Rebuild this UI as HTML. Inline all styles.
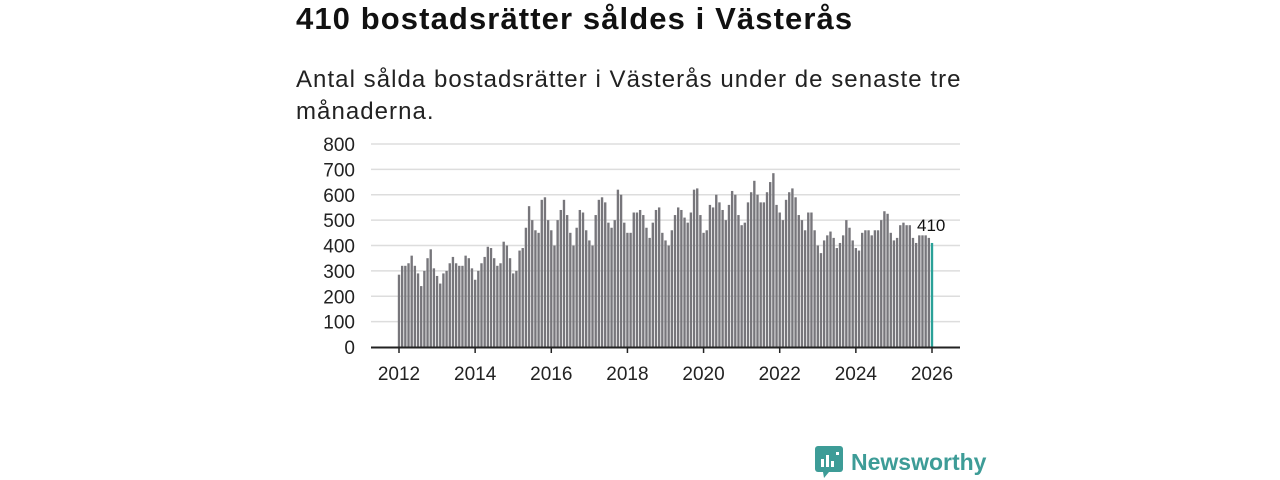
<!DOCTYPE html>
<html><head><meta charset="utf-8"><style>
body{margin:0;width:1280px;height:480px;background:#fff;font-family:"Liberation Sans","DejaVu Sans",sans-serif;position:relative;overflow:hidden;color:#111}
#title{position:absolute;left:296px;top:1px;font-size:31px;letter-spacing:1.1px;font-weight:bold;margin:0}
#sub{position:absolute;left:296px;top:64px;font-size:24px;letter-spacing:1.05px;line-height:32px;width:700px;color:#222}
svg{position:absolute;left:0;top:0}
#logo{position:absolute;left:815px;top:446px;display:flex;align-items:center;gap:8px;color:#3d9c97;font-size:23px;font-weight:bold}
</style></head><body>
<h1 id="title">410 bostadsrätter såldes i Västerås</h1>
<div id="sub">Antal sålda bostadsrätter i Västerås under de senaste tre månaderna.</div>
<svg id="chart" width="1280" height="480"></svg>
<div id="logo"><svg width="28" height="32" style="position:static" viewBox="0 0 28 32"><rect x="0" y="0" width="28" height="26" rx="3" fill="#3d9c97"/><polygon points="8,26 14,26 9,32" fill="#3d9c97"/><rect x="6" y="13" width="3" height="8" fill="#fff"/><rect x="11" y="9" width="3" height="12" fill="#fff"/><rect x="16" y="15" width="3" height="6" fill="#fff"/><rect x="21" y="6" width="3" height="3" fill="#fff"/></svg><span>Newsworthy</span></div>
<script>
const startYear = 2012;
const values = [
285,320,320,330,360,320,290,240,300,350,385,310,
280,250,290,300,330,355,330,320,320,360,350,310,
265,300,330,355,395,390,350,320,330,415,400,350,
290,300,380,390,470,555,500,460,450,580,590,500,
460,400,500,540,580,520,450,400,470,540,530,460,
420,400,520,580,590,570,490,470,500,620,600,490,
450,450,530,530,540,520,470,430,490,540,550,450,
420,400,460,520,550,540,510,490,530,620,625,520,
450,460,560,550,600,570,540,500,560,615,600,520,
480,490,570,610,655,600,570,570,610,650,685,560,
530,500,580,610,625,590,520,500,460,530,530,460,
400,370,420,440,455,430,390,410,440,500,470,420,
390,380,450,460,460,440,460,460,500,535,525,450,
420,430,480,490,480,480,430,410,440,440,440,430,
410];
const yTicks = [0,100,200,300,400,500,600,700,800];
const xTicks = [2012,2014,2016,2018,2020,2022,2024,2026];
const svg = document.getElementById('chart');
const NS = 'http://www.w3.org/2000/svg';
const y = v => 347 - v * (203/800);
const x = t => 399 + (t - startYear) * (533/14);
function mk(tag, attrs){const e=document.createElementNS(NS,tag);for(const k in attrs)e.setAttribute(k,attrs[k]);svg.appendChild(e);return e;}
yTicks.forEach(t=>{
  if(t>0){const g=mk('line',{x1:371,x2:960,y1:y(t),y2:y(t),stroke:'#ddd','stroke-width':1.5});
  
  }
  const l=mk('text',{x:355,y:y(t)+7,'text-anchor':'end','font-size':19,fill:'#222'});
  l.textContent=t;
  
  
});
const bw = 533/14/12;
values.forEach((v,i)=>{
  const last = i===values.length-1;
  const cx = x(startYear + i/12);
  const r=mk('rect',{x:cx-bw/2+0.4,width:bw-0.8,y:y(v),height:347-y(v),fill:last?'#2aa198':'#77767b'});
  
  
  if(last){const t=mk('text',{x:cx-15,y:y(v)-12,'font-size':17,fill:'#111'});t.textContent=v;
  
  }
});
const ax=mk('line',{x1:371,x2:960,y1:347.5,y2:347.5,stroke:'#222','stroke-width':2});


xTicks.forEach(t=>{
  const tk=mk('line',{x1:x(t),x2:x(t),y1:347,y2:353,stroke:'#222','stroke-width':1.5});
  
  
  const l=mk('text',{x:x(t),y:380,'text-anchor':'middle','font-size':19,fill:'#222'});
  l.textContent=t;
  
  
});
</script>
</body></html>
